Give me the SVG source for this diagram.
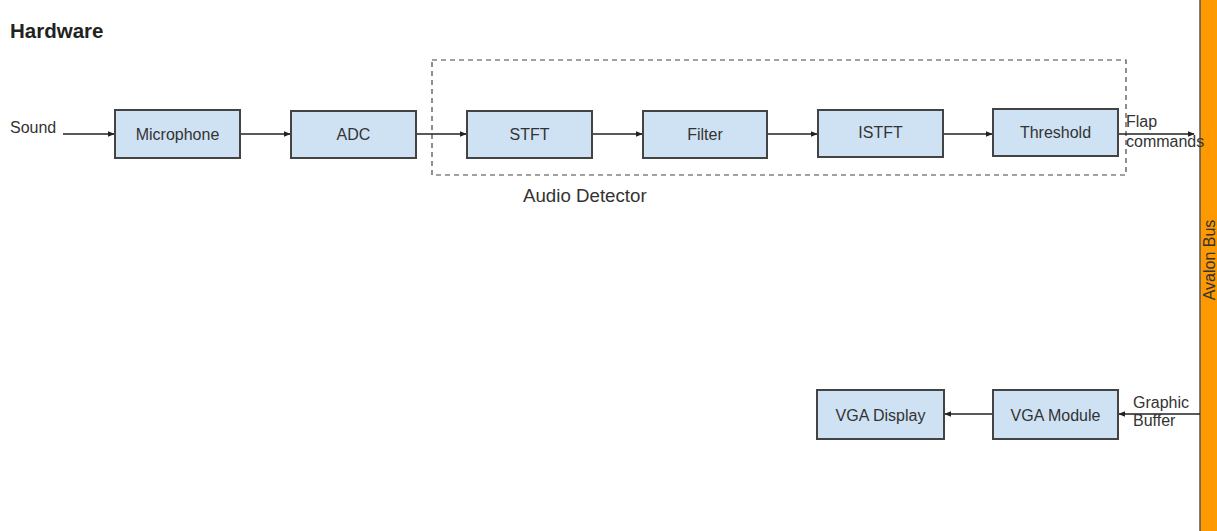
<svg xmlns="http://www.w3.org/2000/svg" width="1217" height="531" viewBox="0 0 1217 531">
<style>
.box{fill:#cfe2f3;stroke:#434343;stroke-width:2}
.lbl{font-family:"Liberation Sans",Arial,sans-serif;font-size:16px;fill:#333;text-anchor:middle}
.txt{font-family:"Liberation Sans",Arial,sans-serif;font-size:16px;fill:#333}
.con{stroke:#222;stroke-width:1.3;fill:none;marker-end:url(#ah)}
</style>
<defs>
<marker id="ah" viewBox="0 0 10 10" refX="9" refY="5" markerWidth="7" markerHeight="7" orient="auto" markerUnits="userSpaceOnUse">
<path d="M0,1 L10,5 L0,9 Z" fill="#222"/>
</marker>
</defs>
<rect width="1217" height="531" fill="#fff"/>
<text x="10" y="38" font-family="Liberation Sans,Arial,sans-serif" font-size="20.5" font-weight="bold" fill="#222">Hardware</text>
<g id="bus">
<rect x="1200" y="-2" width="20" height="535" fill="#ff9900" stroke="#555" stroke-width="1.5"/>
<text class="lbl" transform="translate(1214.5,260) rotate(-90)">Avalon Bus</text>
</g>
<g id="audio-detector">
<rect x="432" y="60" width="694" height="115" fill="none" stroke="#444" stroke-width="1.2" stroke-dasharray="5,4"/>
<text class="txt" x="523" y="202" style="font-size:18.7px">Audio Detector</text>
</g>
<g id="connectors">
<line class="con" x1="63" y1="134" x2="114" y2="134"/>
<line class="con" x1="240" y1="134" x2="290" y2="134"/>
<line class="con" x1="416" y1="134" x2="466" y2="134"/>
<line class="con" x1="592" y1="134" x2="642" y2="134"/>
<line class="con" x1="767" y1="134" x2="817" y2="134"/>
<line class="con" x1="943" y1="134" x2="992" y2="134"/>
<line class="con" x1="1118" y1="134" x2="1194" y2="134"/>
<line class="con" x1="1200" y1="414" x2="1119" y2="414"/>
<line class="con" x1="993" y1="414" x2="945" y2="414"/>
<text class="txt" x="10" y="133">Sound</text>
<text class="txt" x="1126" y="127">Flap</text>
<text class="txt" x="1126" y="147">commands</text>
<text class="txt" x="1133" y="408">Graphic</text>
<text class="txt" x="1133" y="426">Buffer</text>
</g>
<g id="microphone"><rect class="box" x="115" y="110" width="125" height="48"/><text class="lbl" x="177.5" y="139.5">Microphone</text></g>
<g id="adc"><rect class="box" x="291" y="111" width="125" height="47"/><text class="lbl" x="353.5" y="140">ADC</text></g>
<g id="stft"><rect class="box" x="467" y="111" width="125" height="47"/><text class="lbl" x="529.5" y="140">STFT</text></g>
<g id="filter"><rect class="box" x="643" y="111" width="124" height="47"/><text class="lbl" x="705" y="140">Filter</text></g>
<g id="istft"><rect class="box" x="818" y="110" width="125" height="47"/><text class="lbl" x="880.5" y="138">ISTFT</text></g>
<g id="threshold"><rect class="box" x="993" y="109" width="125" height="47"/><text class="lbl" x="1055.5" y="138">Threshold</text></g>
<g id="vga-display"><rect class="box" x="817" y="390" width="127" height="49"/><text class="lbl" x="880.5" y="421">VGA Display</text></g>
<g id="vga-module"><rect class="box" x="993" y="390" width="125" height="49"/><text class="lbl" x="1055.5" y="421">VGA Module</text></g>
</svg>
